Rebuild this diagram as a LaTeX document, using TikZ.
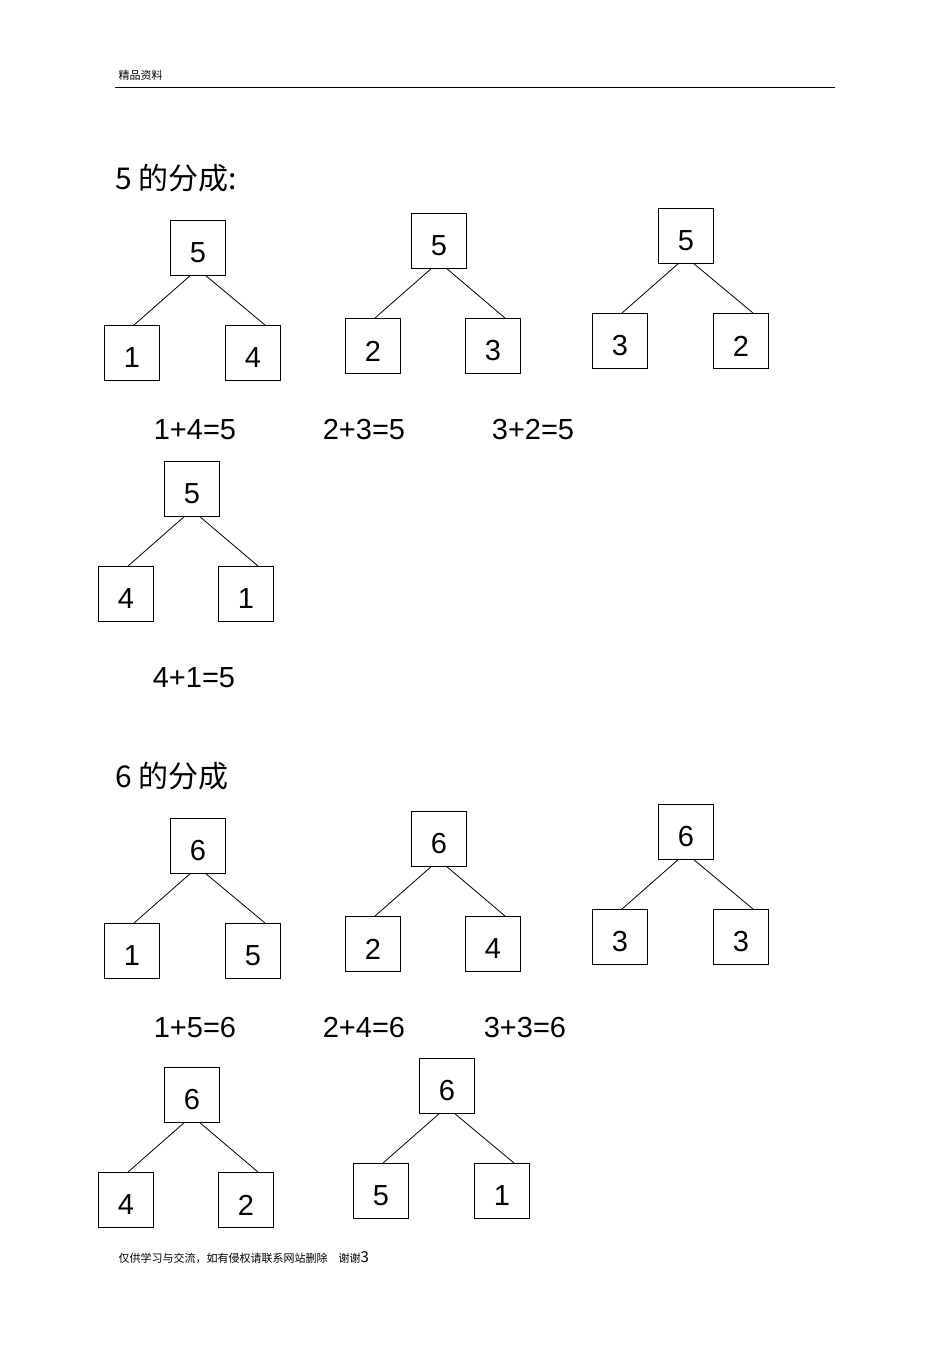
\documentclass[tikz,border=0pt]{standalone}
\usepackage{fontspec}
\setmainfont{Liberation Sans}
\newfontfamily\cjk{Noto Sans CJK SC}
\begin{document}
\begin{tikzpicture}[x=1pt,y=-1pt,
  bx/.style={draw,line width=0.8pt,minimum width=55pt,minimum height=55pt,inner sep=0pt,anchor=north},
  dg/.style={font=\fontsize{29}{29}\selectfont},
  eq/.style={font=\fontsize{29}{29}\selectfont},
  ln/.style={line width=0.8pt}]
\useasboundingbox (0,0) rectangle (950,1345);
\newcommand\mytree[8]{%
  \node[bx] (#1t) at (#2,#3) {};
  \node[bx] (#1l) at (#5,#3+105) {};
  \node[bx] (#1r) at (#7,#3+105) {};
  \node[dg] at (#2,#3+33) {#4};
  \node[dg] at (#5,#3+138) {#6};
  \node[dg] at (#7,#3+138) {#8};
  \draw[ln] ([xshift=-8pt]#1t.south) -- ([xshift=2pt]#1l.north);
  \draw[ln] ([xshift=8pt]#1t.south) -- ([xshift=12pt]#1r.north);
}
\node[anchor=west,font=\cjk\fontsize{11}{11}\selectfont] (hd) at (115,75) {精品资料};
\draw[line width=0.6pt] (115,87) -- (835,87);
\node[anchor=west,font=\cjk\fontsize{30}{30}\selectfont] (t5) at (112,178) {5 的分成:};
\mytree{a}{198}{220}{5}{132}{1}{253}{4}
\mytree{b}{439}{213}{5}{373}{2}{493}{3}
\mytree{c}{686}{208}{5}{620}{3}{741}{2}
\node[eq] (e1) at (195,430) {1+4=5};
\node[eq] (e2) at (364,430) {2+3=5};
\node[eq] (e3) at (533,430) {3+2=5};
\mytree{d}{192}{461}{5}{126}{4}{246}{1}
\node[eq] (e4) at (194,678) {4+1=5};
\node[anchor=west,font=\cjk\fontsize{30}{30}\selectfont] (t6) at (112,776) {6 的分成};
\mytree{f}{198}{818}{6}{132}{1}{253}{5}
\mytree{g}{439}{811}{6}{373}{2}{493}{4}
\mytree{h}{686}{804}{6}{620}{3}{741}{3}
\node[eq] (e5) at (195,1028) {1+5=6};
\node[eq] (e6) at (364,1028) {2+4=6};
\node[eq] (e7) at (525,1028) {3+3=6};
\mytree{i}{192}{1067}{6}{126}{4}{246}{2}
\mytree{j}{447}{1058}{6}{381}{5}{502}{1}
\node[anchor=west,font=\cjk\fontsize{11}{11}\selectfont] (ft) at (115,1258) {仅供学习与交流，如有侵权请联系网站删除\quad 谢谢{\fontsize{15}{15}\selectfont 3}};
\end{tikzpicture}
\end{document}
